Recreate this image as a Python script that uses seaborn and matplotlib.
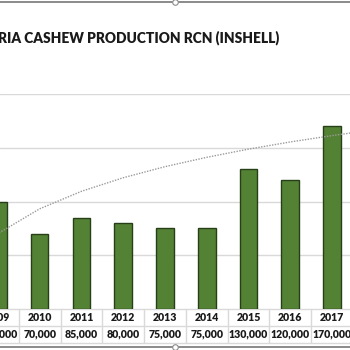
import matplotlib
matplotlib.use("Agg")
import matplotlib.pyplot as plt
from matplotlib.lines import Line2D
import seaborn as sns
import pandas as pd

# Production of raw cashew nuts (in-shell), tonnes
years = [2009, 2010, 2011, 2012, 2013, 2014, 2015, 2016, 2017]
production = [100000, 70000, 85000, 80000, 75000, 75000, 130000, 120000, 170000]

# Logarithmic trend line, value at each year
trend_years = [2008, 2009, 2010, 2011, 2012, 2013, 2014, 2015, 2016, 2017, 2018]
trend_values = [31000, 70200, 93200, 109500, 122100, 132400, 141100, 148700, 155400, 161300, 166700]

title = "NIGERIA CASHEW PRODUCTION RCN (INSHELL)"
grid_ticks = [50000, 100000, 150000, 200000]

bar_color = "#548235"
edge_color = "#263f17"
grid_color = "#d9d9d9"
text_color = "#1a1a1a"

sns.set_theme(style="white")
plt.rcParams["font.family"] = ["Lato", "DejaVu Sans"]

W = H = 350
fig = plt.figure(figsize=(3.5, 3.5), dpi=100)
fig.patch.set_facecolor("white")

# plot area: baseline at 309 px, 200k gridline at 94 px
ax = fig.add_axes([0, (H - 309) / H, 1, (309 - 94) / H])
ax.set_facecolor("white")

df = pd.DataFrame({"year": [str(y) for y in years], "production": production})
sns.barplot(data=df, x="year", y="production", order=df["year"].tolist(),
            color=bar_color, saturation=1, width=0.42,
            edgecolor=edge_color, linewidth=1.0, ax=ax, zorder=3)

# dotted trend line on the same category positions
trend_pos = [y - years[0] for y in trend_years]
ax.plot(trend_pos, trend_values, linestyle=(0, (1, 1)), color="#9a9a9a",
        linewidth=1.0, zorder=4)

left = 2.06 / 41.76
ax.set_xlim(left, left + W / 41.76)
ax.set_ylim(0, 200000)
ax.set_yticks(grid_ticks)
ax.yaxis.grid(True, color=grid_color, linewidth=1.0)
ax.set_axisbelow(True)
for sp in ax.spines.values():
    sp.set_visible(False)
ax.set_xticks([])
ax.set_yticklabels([])
ax.tick_params(left=False, bottom=False)
ax.set_xlabel("")
ax.set_ylabel("")

# data table beneath the bars
tr = ax.get_xaxis_transform()
def fy(px):
    return (309 - px) / 215.0

row_lines = [309, 325.7, 343]
for py in row_lines:
    ax.plot([left - 1, left + W / 41.76 + 1], [fy(py), fy(py)], transform=tr,
            color=grid_color, linewidth=1.0, clip_on=False, zorder=2)
for i in range(-1, len(years)):
    ax.plot([i + 0.5, i + 0.5], [fy(309), fy(343)], transform=tr,
            color=grid_color, linewidth=1.0, clip_on=False, zorder=2)

for i, (yr, val) in enumerate(zip(years, production)):
    ax.text(i, fy(317.3), str(yr), transform=tr, ha="center", va="center",
            fontsize=7.6, fontweight="heavy", color=text_color, clip_on=False)
    ax.text(i, fy(334.3), f"{val:,}", transform=tr, ha="center", va="center",
            fontsize=7.6, fontweight="heavy", color=text_color, clip_on=False)

# chart title
fig.text(279 / W, 1 - 37.5 / H, title, ha="right", va="center",
         fontsize=9.9, fontweight="heavy", color=text_color)

# chart frame edges with sizing handles
for py in (1.8, 346.5):
    fig.add_artist(Line2D([0, 1], [1 - py / H, 1 - py / H], transform=fig.transFigure,
                          color="#6b6b6b", linewidth=1.1))
    fig.add_artist(Line2D([175 / W], [1 - py / H], transform=fig.transFigure,
                          marker="o", markersize=4, markerfacecolor="white",
                          markeredgecolor="#8c8c8c", markeredgewidth=0.8,
                          linestyle="none"))

fig.savefig("out.png", dpi=100, facecolor="white")
